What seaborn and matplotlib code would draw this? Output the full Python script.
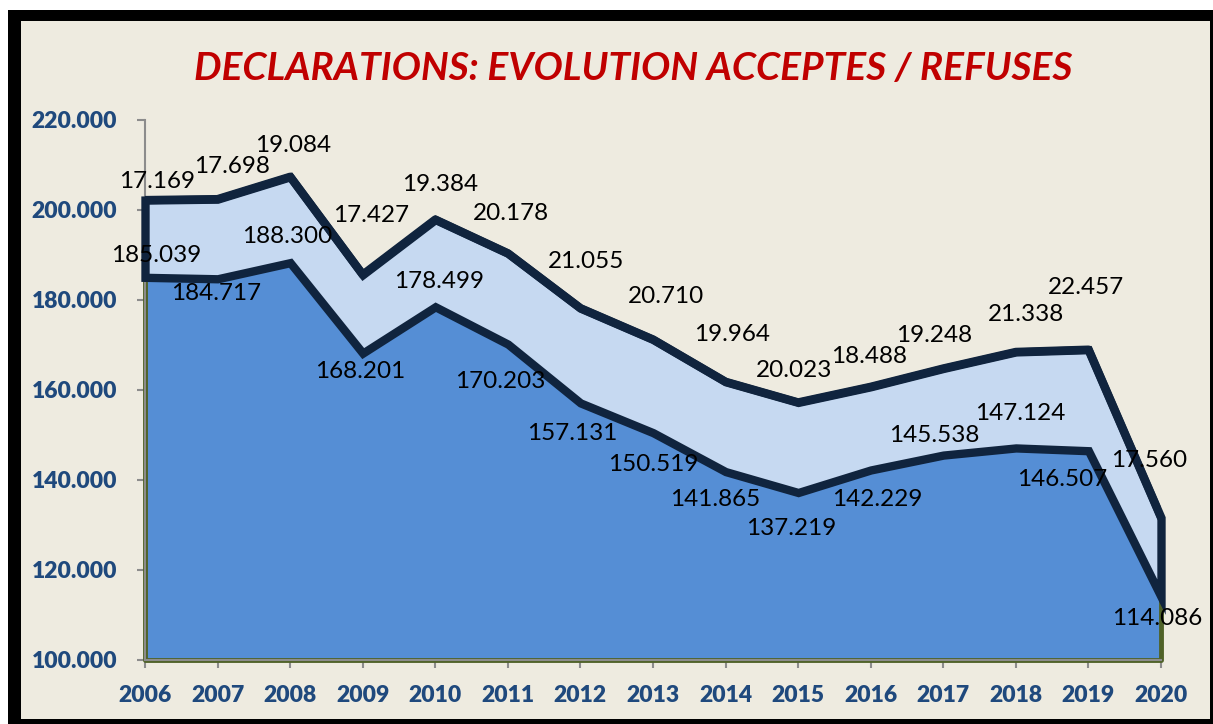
import numpy as np
import pandas as pd
import matplotlib
matplotlib.use("Agg")
import matplotlib.pyplot as plt
import seaborn as sns
from matplotlib.patches import Rectangle
from matplotlib.ticker import FuncFormatter

# data
years = [2006, 2007, 2008, 2009, 2010, 2011, 2012, 2013, 2014, 2015, 2016, 2017, 2018, 2019, 2020]
acceptes = [185039, 184717, 188300, 168201, 178499, 170203, 157131, 150519,
            141865, 137219, 142229, 145538, 147124, 146507, 114086]
refuses = [17169, 17698, 19084, 17427, 19384, 20178, 21055, 20710,
           19964, 20023, 18488, 19248, 21338, 22457, 17560]

# label offsets in pixels (x, y up), as Excel placed them
acc_off = [(11, 22), (-1, -15), (-3, 26), (-3, -18), (4, 25), (-8, -37), (-8, -31), (0, -32),
           (-10, -28), (-7, -36), (7, -30), (-9, 20), (4, 34), (-26, -29), (-4, -22)]
ref_off = [(12, 19), (14, 33), (3, 31), (8, 59), (5, 35), (3, 40), (6, 47), (13, 43),
           (6, 47), (-4, 32), (-2, 30), (-9, 33), (10, 37), (-2, 62), (-12, 57)]

df = pd.DataFrame({"annee": years, "acceptes": acceptes, "refuses": refuses})
df["total"] = df["acceptes"] + df["refuses"]

BEIGE = "#EEEBE0"
NAVY = "#10243E"
OLIVE = "#4F6228"
TICK_BLUE = "#1F497D"

sns.set_theme(style="white")
plt.rcParams["font.family"] = ["Lato", "DejaVu Sans"]

fig = plt.figure(figsize=(12.13, 7.24), dpi=100)
fig.patch.set_facecolor("white")
W, H = 1213, 724
fig.patches.append(Rectangle((8 / W, 0), (W - 8) / W, 1 - 10 / H, transform=fig.transFigure,
                             facecolor="black", edgecolor="none", zorder=-2))
fig.patches.append(Rectangle((21 / W, 5 / H), (1210 - 21) / W, (719 - 21) / H, transform=fig.transFigure,
                             facecolor=BEIGE, edgecolor="none", zorder=-1))

ax = fig.add_axes([145 / W, 1 - 660 / H, (1161 - 145) / W, (660 - 120) / H])
ax.set_zorder(2)
ax.patch.set_alpha(0)

ymin = 100000
ax.fill_between(df["annee"], ymin, df["acceptes"], facecolor="#558ED5",
                edgecolor=OLIVE, linewidth=3.5, zorder=2, clip_on=False)
ax.fill_between(df["annee"], df["acceptes"], df["total"], facecolor="#C6D9F1",
                edgecolor=NAVY, linewidth=6, joinstyle="miter", zorder=3, clip_on=False)
sns.lineplot(data=df, x="annee", y="total", color=NAVY, linewidth=6, ax=ax, zorder=4)

fmt = lambda v: f"{int(v):,}".replace(",", ".")

for x, y, v, o in zip(df["annee"], df["acceptes"], df["acceptes"], acc_off):
    ax.annotate(fmt(v), (x, y), xytext=o, textcoords="offset pixels",
                ha="center", va="center", fontsize=17.5, color="black", zorder=6)
for x, y, v, o in zip(df["annee"], df["total"], df["refuses"], ref_off):
    ax.annotate(fmt(v), (x, y), xytext=o, textcoords="offset pixels",
                ha="center", va="center", fontsize=17.5, color="black", zorder=6)

ax.set_xlim(2006, 2020)
ax.set_ylim(100000, 220000)
ax.set_yticks(np.arange(100000, 220001, 20000))
ax.set_xticks(years)
ax.yaxis.set_major_formatter(FuncFormatter(lambda v, p: fmt(v)))
ax.set_xlabel("")
ax.set_ylabel("")
for s in ["top", "right"]:
    ax.spines[s].set_visible(False)
for s in ["left", "bottom"]:
    ax.spines[s].set_color("#8C8C8C")
    ax.spines[s].set_linewidth(1.5)
ax.tick_params(axis="both", which="major", bottom=True, left=True, direction="out",
               length=6, width=1.5, color="#8C8C8C", labelcolor=TICK_BLUE, labelsize=16.5)
ax.tick_params(axis="y", pad=14)
ax.tick_params(axis="x", pad=12)
for lab in ax.get_xticklabels() + ax.get_yticklabels():
    lab.set_fontweight("heavy")

fig.text(633 / W, 1 - 68 / H, "DECLARATIONS: EVOLUTION ACCEPTES / REFUSES",
         ha="center", va="center", fontsize=28, fontweight="bold", fontstyle="italic",
         color="#C00000")

fig.savefig("out.png", dpi=100)
